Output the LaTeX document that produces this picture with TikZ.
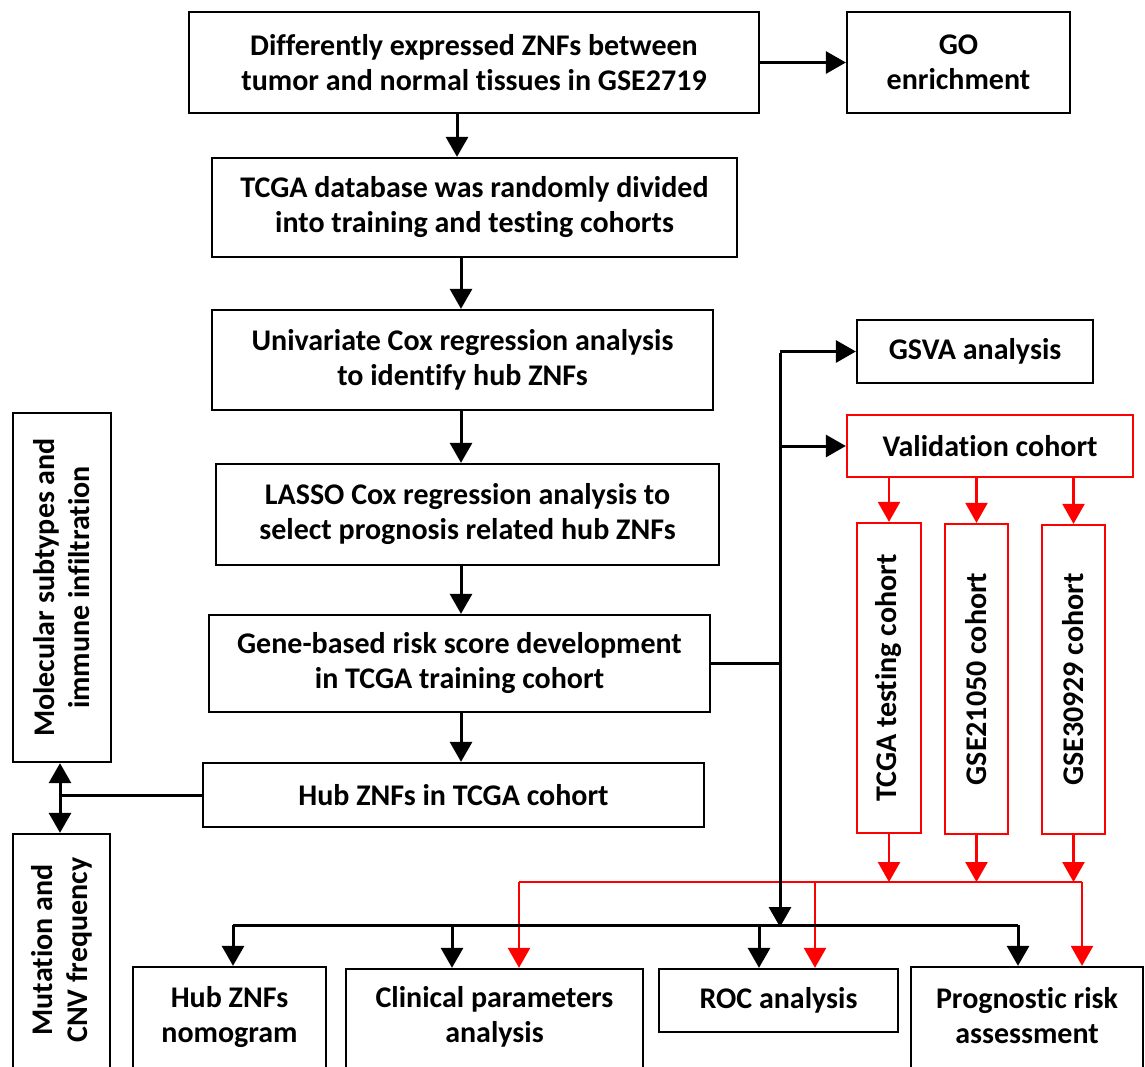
\documentclass[tikz,border=0pt]{standalone}
\usepackage{fontspec}
\setmainfont{Carlito}[Ligatures=NoCommon]
\usetikzlibrary{arrows.meta}
\begin{document}
\begin{tikzpicture}[x=1pt,y=-1pt,
 txt/.style={font=\fontsize{30}{35}\selectfont\bfseries, align=center},
 box/.style={draw=black, line width=2.3pt, align=center, inner sep=0pt, txt},
 rbox/.style={box, draw=red},
 arr/.style={draw=black, line width=3pt, -{Triangle[width=22pt,length=20pt]}},
 darr/.style={draw=black, line width=3pt, {Triangle[width=22pt,length=20pt]}-{Triangle[width=22pt,length=20pt]}},
 ln/.style={draw=black, line width=3pt},
 rarr/.style={draw=red, line width=2.4pt, -{Triangle[width=22pt,length=20pt]}},
 rln/.style={draw=red, line width=2.4pt}]
\useasboundingbox (0,0) rectangle (1145,1066);
\fill[white] (0,0) rectangle (1145,1066);

% main column
\node[box, minimum width=570pt, minimum height=101pt] (b1) at (474,62.5) {Differently expressed ZNFs between\\tumor and normal tissues in GSE2719};
\node[box, minimum width=223pt, minimum height=101pt] (go) at (958.5,62.5) {GO\\enrichment};
\node[box, minimum width=525pt, minimum height=99pt] (b2) at (474.5,207.5) {TCGA database was randomly divided\\into training and testing cohorts};
\node[box, minimum width=501pt, minimum height=100pt] (b3) at (462.5,360) {Univariate Cox regression analysis\\to identify hub ZNFs};
\node[box, minimum width=503pt, minimum height=101pt] (b4) at (467.5,514.5) {LASSO Cox regression analysis to\\select prognosis related hub ZNFs};
\node[box, minimum width=501pt, minimum height=97pt] (b5) at (459.5,663.5) {Gene-based risk score development\\in TCGA training cohort};
\node[box, minimum width=501pt, minimum height=64pt] (b6) at (453.5,795) {Hub ZNFs in TCGA cohort};

% left column
\node[box, minimum width=98pt, minimum height=349pt] (mol) at (62,587.5) {};
\node[txt, rotate=90] (molt) at (mol.center) {Molecular subtypes and\\immune infiltration};
\node[box, minimum width=97pt, minimum height=235pt] (mut) at (61.5,951.5) {};
\node[txt, rotate=90] (mutt) at (61.5,950) {Mutation and\\CNV frequency};

% right column
\node[box, minimum width=236pt, minimum height=63pt] (gsva) at (975,351.5) {GSVA analysis};
\node[rbox, minimum width=286pt, minimum height=62pt] (val) at (990,446) {Validation cohort};
\node[rbox, minimum width=64pt, minimum height=310pt] (c1) at (889,678) {};
\node[rbox, minimum width=63pt, minimum height=310pt] (c2) at (976.5,679) {};
\node[rbox, minimum width=63pt, minimum height=309pt] (c3) at (1073.5,679.5) {};
\node[txt, rotate=90] (c1t) at (c1.center) {TCGA testing cohort};
\node[txt, rotate=90] (c2t) at (c2.center) {GSE21050 cohort};
\node[txt, rotate=90] (c3t) at (c3.center) {GSE30929 cohort};

% bottom row
\node[box, minimum width=193pt, minimum height=102pt] (nom) at (229.5,1018) {};
\node[txt] (nomt) at (229.5,1017) {Hub ZNFs\\nomogram};
\node[box, minimum width=297pt, minimum height=100pt] (clin) at (494.5,1019) {};
\node[txt] (clint) at (494.5,1017) {Clinical parameters\\analysis};
\node[box, minimum width=239pt, minimum height=63pt] (roc) at (778.5,1000.5) {ROC analysis};
\node[box, minimum width=232pt, minimum height=102pt] (prog) at (1027,1018) {};
\node[txt] (progt) at (1027,1016) {Prognostic risk\\assessment};

% coordinates
\coordinate (xA) at (457,0);
\coordinate (xB) at (461,0);
\coordinate (xL) at (60,0);
\coordinate (tr) at (780,0);
\coordinate (rY) at (0,882);
\coordinate (bY) at (0,925);
\coordinate (rL) at (519,0);
\coordinate (rM) at (815,0);
\coordinate (rR) at (1082,0);
\coordinate (k1) at (233,0);
\coordinate (k2) at (452,0);
\coordinate (k3) at (759,0);
\coordinate (k4) at (1018,0);

% red connectors
\draw[rarr] (val.south -| c1.north) -- (c1.north);
\draw[rarr] (val.south -| c2.north) -- (c2.north);
\draw[rarr] (val.south -| c3.north) -- (c3.north);
\draw[rarr] (c1.south) -- (c1.south |- rY);
\draw[rarr] (c2.south) -- (c2.south |- rY);
\draw[rarr] (c3.south) -- (c3.south |- rY);
\draw[rln] (rL |- rY) -- (rR |- rY);
\draw[rarr] (rL |- rY) -- (rL |- clin.north);
\draw[rarr] (rM |- rY) -- (rM |- roc.north);
\draw[rarr] (rR |- rY) -- (rR |- prog.north);

% black connectors
\draw[arr] (b1.east) -- (go.west);
\draw[arr] (b1.south -| xA) -- (b2.north -| xA);
\draw[arr] (b2.south -| xB) -- (b3.north -| xB);
\draw[arr] (b3.south -| xB) -- (b4.north -| xB);
\draw[arr] (b4.south -| xB) -- (b5.north -| xB);
\draw[arr] (b5.south -| xB) -- (b6.north -| xB);
\draw[ln] (b5.east) -- (b5.east -| tr);
\draw[arr] (tr |- gsva.west) -- (gsva.west);
\draw[arr] (tr |- val.west) -- (val.west);
\draw[arr] ([yshift=-1.5pt]tr |- gsva.west) -- ([yshift=-2pt]tr |- bY);
\draw[ln] (k1 |- bY) -- (k4 |- bY);
\draw[arr] (k1 |- bY) -- (k1 |- nom.north);
\draw[arr] (k2 |- bY) -- (k2 |- clin.north);
\draw[arr] (k3 |- bY) -- (k3 |- roc.north);
\draw[arr] (k4 |- bY) -- (k4 |- prog.north);
\draw[ln] (b6.west) -- (b6.west -| xL);
\draw[darr] (mol.south -| xL) -- (mut.north -| xL);
\end{tikzpicture}
\end{document}
